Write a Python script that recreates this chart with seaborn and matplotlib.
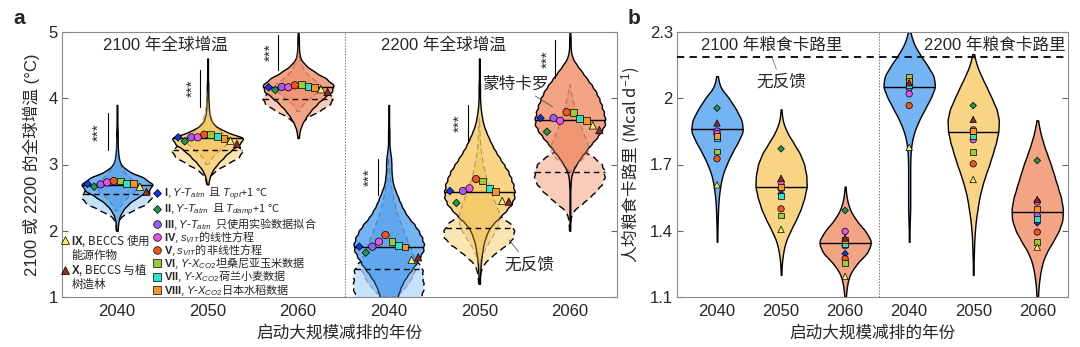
import numpy as np
import pandas as pd
import matplotlib
matplotlib.use("Agg")
import matplotlib.pyplot as plt
from matplotlib.lines import Line2D
import seaborn as sns

# ======================= DATA =======================
years = ["2040", "2050", "2060"]
models = ["I", "II", "III", "IV", "V", "VI", "VII", "VIII", "IX", "X"]

# ---- Panel a: violin profiles (warming level, degC ; relative frequency) ----
# 2100 warming, mitigation start 2040 / 2050 / 2060
a_lv_2100_2040 = [2.0, 2.1, 2.2, 2.3, 2.4, 2.5, 2.6, 2.7, 2.8, 2.9, 3.0, 3.1, 3.2, 3.3, 3.4, 3.5, 3.6, 3.7, 3.8, 3.9]
a_ct_2100_2040 = [2, 3, 6, 15, 30, 55, 88, 100, 75, 30, 10, 5, 3, 2, 2, 2, 1, 1, 1, 1]
a_nf_lv_2100_2040 = [2.0, 2.1, 2.2, 2.3, 2.4, 2.5, 2.6, 2.7, 2.8, 2.9]
a_nf_ct_2100_2040 = [2, 3, 10, 45, 85, 100, 90, 55, 20, 4]
a_mc_lv_2100_2040 = [2.3, 2.4, 2.5, 2.6, 2.7, 2.8, 2.9, 3.0, 3.1, 3.2, 3.3, 3.4]
a_mc_ct_2100_2040 = [6, 22, 50, 85, 100, 60, 30, 15, 8, 5, 3, 2]

a_lv_2100_2050 = [2.7, 2.8, 2.9, 3.0, 3.1, 3.2, 3.3, 3.4, 3.5, 3.6, 3.7, 3.8, 3.9, 4.0, 4.1, 4.2, 4.3, 4.4, 4.5, 4.6]
a_ct_2100_2050 = [2, 5, 12, 25, 42, 60, 85, 100, 45, 16, 7, 4, 3, 2, 2, 2, 1, 1, 1, 1]
a_nf_lv_2100_2050 = [2.7, 2.8, 2.9, 3.0, 3.1, 3.2, 3.3, 3.4, 3.5, 3.6]
a_nf_ct_2100_2050 = [2, 6, 22, 55, 88, 100, 80, 40, 10, 3]
a_mc_lv_2100_2050 = [3.0, 3.1, 3.2, 3.3, 3.4, 3.5, 3.6, 3.7, 3.8, 3.9, 4.0, 4.1]
a_mc_ct_2100_2050 = [5, 20, 50, 85, 100, 55, 30, 18, 10, 6, 3, 2]

a_lv_2100_2060 = [3.4, 3.5, 3.6, 3.7, 3.8, 3.9, 4.0, 4.1, 4.2, 4.3, 4.4, 4.5, 4.6, 4.7, 4.8, 4.9, 5.0, 5.1]
a_ct_2100_2060 = [2, 4, 10, 20, 33, 50, 70, 95, 100, 78, 45, 20, 6, 3, 2, 2, 1, 1]
a_nf_lv_2100_2060 = [3.5, 3.6, 3.7, 3.8, 3.9, 4.0, 4.1, 4.2, 4.3, 4.4]
a_nf_ct_2100_2060 = [2, 6, 25, 60, 90, 100, 80, 45, 12, 3]
a_mc_lv_2100_2060 = [3.8, 3.9, 4.0, 4.1, 4.2, 4.3, 4.4, 4.5, 4.6, 4.7, 4.8]
a_mc_ct_2100_2060 = [5, 20, 55, 90, 100, 60, 30, 15, 7, 3, 2]

# 2200 warming
a_lv_2200_2040 = [0.8, 0.9, 1.0, 1.1, 1.2, 1.3, 1.4, 1.5, 1.6, 1.7, 1.8, 1.9, 2.0, 2.1, 2.2, 2.3,
                  2.4, 2.5, 2.6, 2.7, 2.8, 2.9, 3.0, 3.1, 3.2, 3.3, 3.4, 3.5, 3.6, 3.7, 3.8, 3.9]
a_ct_2200_2040 = [12, 20, 26, 32, 40, 52, 66, 80, 92, 102, 104, 98, 88, 75, 58, 46,
                  36, 28, 20, 13, 10, 8, 8, 7, 4, 2, 2, 2, 1, 1, 1, 1]
a_nf_lv_2200_2040 = [0.5, 0.6, 0.7, 0.8, 0.9, 1.0, 1.1, 1.2, 1.3, 1.4, 1.5, 1.6, 1.7, 1.8, 1.9]
a_nf_ct_2200_2040 = [10, 30, 55, 75, 88, 95, 100, 100, 100, 98, 88, 65, 35, 12, 3]
a_mc_lv_2200_2040 = [1.0, 1.1, 1.2, 1.3, 1.4, 1.5, 1.6, 1.7, 1.8, 1.9, 2.0, 2.1, 2.2, 2.3, 2.4,
                     2.5, 2.6, 2.7, 2.8, 2.9, 3.0, 3.1]
a_mc_ct_2200_2040 = [30, 55, 75, 90, 100, 100, 95, 86, 76, 66, 56, 47, 38, 30, 24, 18, 13, 9, 6, 4, 2, 1]

a_lv_2200_2050 = [1.2, 1.3, 1.4, 1.5, 1.6, 1.7, 1.8, 1.9, 2.0, 2.1, 2.2, 2.3, 2.4, 2.5, 2.6, 2.7, 2.8, 2.9,
                  3.0, 3.1, 3.2, 3.3, 3.4, 3.5, 3.6, 3.7, 3.8, 3.9, 4.0, 4.1, 4.2, 4.3, 4.4, 4.5, 4.6]
a_ct_2200_2050 = [2, 2, 3, 4, 6, 9, 12, 18, 25, 38, 58, 76, 92, 100, 100, 97, 90, 82,
                  70, 58, 46, 36, 27, 19, 12, 8, 5, 3, 2, 2, 2, 1, 1, 1, 1]
a_nf_lv_2200_2050 = [1.2, 1.3, 1.4, 1.5, 1.6, 1.7, 1.8, 1.9, 2.0, 2.1, 2.2, 2.3, 2.4, 2.5]
a_nf_ct_2200_2050 = [2, 3, 6, 15, 35, 58, 85, 100, 100, 90, 65, 32, 10, 3]
a_mc_lv_2200_2050 = [1.5, 1.6, 1.7, 1.8, 1.9, 2.0, 2.1, 2.2, 2.3, 2.4, 2.5, 2.6, 2.7, 2.8, 2.9,
                     3.0, 3.1, 3.2, 3.3, 3.4, 3.5, 3.6, 3.7]
a_mc_ct_2200_2050 = [5, 12, 25, 45, 65, 85, 97, 100, 95, 82, 70, 58, 46, 36, 28, 21, 15, 10, 7, 5, 3, 2, 1]

a_lv_2200_2060 = [2.0, 2.1, 2.2, 2.3, 2.4, 2.5, 2.6, 2.7, 2.8, 2.9, 3.0, 3.1, 3.2, 3.3, 3.4, 3.5,
                  3.6, 3.7, 3.8, 3.9, 4.0, 4.1, 4.2, 4.3, 4.4, 4.5, 4.6, 4.7, 4.8, 4.9, 5.0, 5.1]
a_ct_2200_2060 = [1, 1, 1, 1, 1, 1, 1, 2, 3, 8, 18, 30, 45, 60, 76, 90,
                  100, 100, 96, 90, 83, 74, 62, 48, 34, 20, 8, 3, 2, 2, 1, 1]
a_nf_lv_2200_2060 = [2.0, 2.1, 2.2, 2.3, 2.4, 2.5, 2.6, 2.7, 2.8, 2.9, 3.0, 3.1, 3.2, 3.3, 3.4]
a_nf_ct_2200_2060 = [1, 2, 4, 12, 36, 58, 78, 93, 100, 100, 92, 70, 40, 15, 4]
a_mc_lv_2200_2060 = [2.9, 3.0, 3.1, 3.2, 3.3, 3.4, 3.5, 3.6, 3.7, 3.8, 3.9, 4.0, 4.1, 4.2]
a_mc_ct_2200_2060 = [5, 35, 75, 100, 95, 82, 68, 55, 44, 33, 23, 14, 7, 2]

a_median_main = [2.69, 3.40, 4.17, 1.76, 2.59, 3.67]
a_median_nofb = [2.55, 3.22, 3.99, 1.42, 2.04, 2.89]

# model results (I..X) per panel-a group
a_pts_2100_2040 = [2.706, 2.665, 2.70, 2.73, 2.75, 2.75, 2.715, 2.71, 2.665, 2.59]
a_pts_2100_2050 = [3.41, 3.35, 3.41, 3.41, 3.45, 3.45, 3.42, 3.39, 3.36, 3.31]
a_pts_2100_2060 = [4.165, 4.125, 4.17, 4.165, 4.195, 4.205, 4.175, 4.16, 4.135, 4.095]
a_pts_2200_2040 = [1.76, 1.67, 1.76, 1.835, 1.935, 1.835, 1.78, 1.755, 1.56, 1.60]
a_pts_2200_2050 = [2.60, 2.42, 2.60, 2.64, 2.78, 2.75, 2.64, 2.59, 2.45, 2.44]
a_pts_2200_2060 = [3.70, 3.495, 3.70, 3.66, 3.79, 3.79, 3.70, 3.67, 3.59, 3.52]

# significance bars (degC)
sig_lo = [3.22, 3.87, 4.43, 2.54, 3.35, 4.30]
sig_hi = [3.77, 4.43, 4.96, 3.09, 3.90, 4.88]

# ---- Panel b: food calories (Mcal d-1) ----
b_lv_2100_2040 = [1.35, 1.40, 1.45, 1.50, 1.55, 1.60, 1.65, 1.70, 1.75, 1.80, 1.85, 1.90, 1.95, 2.00, 2.05, 2.10]
b_ct_2100_2040 = [1, 1, 2, 3, 5, 9, 15, 27, 42, 60, 76, 72, 55, 35, 8, 2]
b_lv_2100_2050 = [1.20, 1.25, 1.30, 1.35, 1.40, 1.45, 1.50, 1.55, 1.60, 1.65, 1.70, 1.75, 1.80, 1.85, 1.90, 1.95]
b_ct_2100_2050 = [1, 2, 6, 13, 28, 45, 60, 70, 78, 76, 70, 57, 36, 16, 4, 1]
b_lv_2100_2060 = [1.05, 1.10, 1.15, 1.20, 1.25, 1.30, 1.35, 1.40, 1.45, 1.50, 1.55, 1.60]
b_ct_2100_2060 = [1, 2, 5, 12, 32, 65, 78, 58, 30, 12, 4, 1]
b_lv_2200_2040 = [1.35, 1.40, 1.45, 1.50, 1.55, 1.60, 1.65, 1.70, 1.75, 1.80, 1.85, 1.90, 1.95, 2.00,
                  2.05, 2.10, 2.15, 2.20, 2.25, 2.30]
b_ct_2200_2040 = [1, 1, 2, 3, 3, 3, 3, 3, 4, 7, 15, 28, 45, 62, 76, 72, 52, 30, 12, 3]
b_lv_2200_2050 = [1.20, 1.25, 1.30, 1.35, 1.40, 1.45, 1.50, 1.55, 1.60, 1.65, 1.70, 1.75, 1.80, 1.85,
                  1.90, 1.95, 2.00, 2.05, 2.10, 2.15, 2.20]
b_ct_2200_2050 = [1, 1, 2, 3, 5, 8, 13, 18, 26, 36, 48, 58, 68, 75, 77, 70, 55, 40, 24, 10, 2]
b_lv_2200_2060 = [1.05, 1.10, 1.15, 1.20, 1.25, 1.30, 1.35, 1.40, 1.45, 1.50, 1.55, 1.60, 1.65, 1.70,
                  1.75, 1.80, 1.85, 1.90]
b_ct_2200_2060 = [1, 2, 4, 8, 14, 26, 46, 64, 75, 76, 70, 60, 50, 40, 28, 17, 8, 2]

b_median = [1.86, 1.60, 1.345, 2.05, 1.849, 1.484]
b_nofb_ref = 2.185

b_pts_2100_2040 = [1.835, 1.955, 1.852, 1.84, 1.726, 1.759, 1.818, 1.828, 1.608, 1.888]
b_pts_2100_2050 = [1.567, 1.771, 1.59, 1.62, 1.499, 1.469, 1.557, 1.60, 1.406, 1.638]
b_pts_2100_2060 = [1.296, 1.492, 1.332, 1.397, 1.273, 1.253, 1.34, 1.36, 1.193, 1.367]
b_pts_2200_2040 = [2.05, 2.085, 2.047, 2.02, 1.967, 2.098, 2.06, 2.08, 1.778, 2.07]
b_pts_2200_2050 = [1.843, 1.967, 1.857, 1.812, 1.703, 1.756, 1.827, 1.85, 1.632, 1.904]
b_pts_2200_2060 = [1.436, 1.718, 1.469, 1.53, 1.394, 1.349, 1.454, 1.499, 1.326, 1.542]

legend_labels = [
    r"$\mathbf{I}$, $Y$-$T_{atm}$  且 $T_{opt}$+1 °C",
    r"$\mathbf{II}$, $Y$-$T_{atm}$  且 $T_{damp}$+1 °C",
    r"$\mathbf{III}$, $Y$-$T_{atm}$  只使用实验数据拟合",
    r"$\mathbf{IV}$, $s_{VIT}$的线性方程",
    r"$\mathbf{V}$, $s_{VIT}$的非线性方程",
    r"$\mathbf{VI}$, $Y$-$X_{CO2}$坦桑尼亚玉米数据",
    r"$\mathbf{VII}$, $Y$-$X_{CO2}$荷兰小麦数据",
    r"$\mathbf{VIII}$, $Y$-$X_{CO2}$日本水稻数据",
]
legend_labels_2 = [r"$\mathbf{IX}$, BECCS 使用", "能源作物", r"$\mathbf{X}$, BECCS 与植", "树造林"]

# ======================= STYLE =======================
sns.set_theme(style="white")
plt.rcParams["font.family"] = ["Liberation Sans", "Noto Sans CJK SC", "DejaVu Sans"]
plt.rcParams.update({
    "mathtext.fontset": "custom",
    "mathtext.rm": "Liberation Sans",
    "mathtext.it": "Liberation Sans:italic",
    "mathtext.bf": "Liberation Sans:bold",
    "axes.unicode_minus": False,
})
CJK = ["Noto Sans CJK SC", "Liberation Sans", "DejaVu Sans"]

main_col = ["#74B4F3", "#F8D484", "#F3A485"]
nofb_col = ["#C8E1FA", "#FBE5B2", "#F8CCB9"]
mc_col = ["#3F8FE3", "#F0B940", "#EA7C58"]
marker_map = {"I": "D", "II": "D", "III": "o", "IV": "o", "V": "o",
              "VI": "s", "VII": "s", "VIII": "s", "IX": "^", "X": "^"}
color_map = {"I": "#1333E6", "II": "#1F9A4C", "III": "#9B5EF0", "IV": "#E653E6",
             "V": "#F0561A", "VI": "#9DC93A", "VII": "#30E0C8", "VIII": "#F6952C",
             "IX": "#F4F06A", "X": "#8E2C2C"}
size_a = {"I": 15, "II": 15, "III": 28, "IV": 28, "V": 28, "VI": 24, "VII": 24,
          "VIII": 24, "IX": 28, "X": 28}
size_b = {k: v * 0.75 for k, v in size_a.items()}

fig = plt.figure(figsize=(10.8, 3.47), dpi=100)
axA = fig.add_axes([62 / 1080, 1 - 297 / 347, 555 / 1080, 265 / 347])
axB = fig.add_axes([677 / 1080, 1 - 297 / 347, 391 / 1080, 265 / 347])


def draw_violin(ax, pos, lv, ct, color, width, h, lw, ls, alpha, z, edge="black"):
    vals = np.repeat(np.asarray(lv, float), ct)
    n0 = len(ax.collections)
    sns.violinplot(x=np.full(len(vals), float(pos)), y=vals, native_scale=True,
                   color=color, saturation=1, width=width, cut=0, inner=None,
                   density_norm="width", bw_method=h / np.std(vals), gridsize=300,
                   linewidth=lw, linecolor=edge, ax=ax)
    coll = ax.collections[n0]
    coll.set_zorder(z)
    coll.set_linestyle(ls)
    coll.set_alpha(alpha)
    return coll


def hspan(coll, y):
    v = coll.get_paths()[0].vertices
    c = (v[:, 0].min() + v[:, 0].max()) / 2
    r = v[v[:, 0] > c]
    l = v[v[:, 0] < c]
    r = r[np.argsort(r[:, 1])]
    l = l[np.argsort(l[:, 1])]
    return np.interp(y, l[:, 1], l[:, 0]), np.interp(y, r[:, 1], r[:, 0])


# ======================= PANEL A =======================
a_main = [(a_lv_2100_2040, a_ct_2100_2040), (a_lv_2100_2050, a_ct_2100_2050), (a_lv_2100_2060, a_ct_2100_2060),
          (a_lv_2200_2040, a_ct_2200_2040), (a_lv_2200_2050, a_ct_2200_2050), (a_lv_2200_2060, a_ct_2200_2060)]
a_nofb = [(a_nf_lv_2100_2040, a_nf_ct_2100_2040), (a_nf_lv_2100_2050, a_nf_ct_2100_2050),
          (a_nf_lv_2100_2060, a_nf_ct_2100_2060), (a_nf_lv_2200_2040, a_nf_ct_2200_2040),
          (a_nf_lv_2200_2050, a_nf_ct_2200_2050), (a_nf_lv_2200_2060, a_nf_ct_2200_2060)]
a_mc = [(a_mc_lv_2100_2040, a_mc_ct_2100_2040), (a_mc_lv_2100_2050, a_mc_ct_2100_2050),
        (a_mc_lv_2100_2060, a_mc_ct_2100_2060), (a_mc_lv_2200_2040, a_mc_ct_2200_2040),
        (a_mc_lv_2200_2050, a_mc_ct_2200_2050), (a_mc_lv_2200_2060, a_mc_ct_2200_2060)]
mc_width = [0.46, 0.48, 0.5, 0.6, 0.45, 0.42]
W_A = 0.78
DASH = (0, (5, 3))

for i in range(6):
    k = i % 3
    c_nf = draw_violin(axA, i, *a_nofb[i], nofb_col[k], W_A, 0.05, 1.0, DASH, 1.0, 1)
    c_mn = draw_violin(axA, i, *a_main[i], main_col[k], W_A, 0.05, 1.0, "solid", 1.0, 2)
    draw_violin(axA, i, *a_mc[i], mc_col[k], mc_width[i], 0.05, 0.8, DASH, 0.35, 3, edge="#333333")
    x0, x1 = hspan(c_mn, a_median_main[i])
    axA.plot([x0, x1], [a_median_main[i]] * 2, color="black", lw=1.0, zorder=4)
    x0, x1 = hspan(c_nf, a_median_nofb[i])
    axA.plot([x0, x1], [a_median_nofb[i]] * 2, color="black", lw=1.0, ls=(0, (4, 3)), zorder=4)

a_pts = [a_pts_2100_2040, a_pts_2100_2050, a_pts_2100_2060, a_pts_2200_2040, a_pts_2200_2050, a_pts_2200_2060]
a_offsets = np.linspace(-0.325, 0.325, 10)
dfa = pd.DataFrame({"pos": np.repeat(np.arange(6), 10), "model": models * 6,
                    "v": np.concatenate(a_pts)})
dfa["x"] = dfa["pos"] + np.tile(a_offsets, 6)
sns.scatterplot(data=dfa, x="x", y="v", hue="model", style="model", size="model",
                hue_order=models, style_order=models, size_order=models,
                palette=color_map, markers=marker_map, sizes=size_a,
                edgecolor="black", linewidth=0.5, legend=False, ax=axA, zorder=6)

# significance markers
line_off = [-0.10, -0.086, -0.22, -0.12, -0.13, -0.16]
star_off = [-0.20, -0.17, -0.31, -0.21, -0.22, -0.25]
for i in range(6):
    axA.plot([i + line_off[i]] * 2, [sig_lo[i], sig_hi[i]], color="black", lw=0.8, zorder=5)
    axA.text(i + star_off[i], (sig_lo[i] + sig_hi[i]) / 2, "***", rotation=90,
             ha="center", va="center", fontsize=11, zorder=5)

axA.axvline(2.52, color="#777777", lw=0.7, ls=(0, (1.5, 1.5)), zorder=0.5)
axA.text(0.53, 4.80, "2100 年全球增温", ha="center", va="center", fontsize=12)
axA.text(3.60, 4.80, "2200 年全球增温", ha="center", va="center", fontsize=12)
axA.annotate("蒙特卡罗", xy=(4.81, 3.87), xytext=(4.40, 4.22), ha="center", va="center",
             fontsize=12, arrowprops=dict(arrowstyle="-", color="#555555", lw=0.6,
                                          shrinkA=2, shrinkB=0), zorder=7)
axA.annotate("无反馈", xy=(4.33, 1.86), xytext=(4.55, 1.48), ha="center", va="center",
             fontsize=12, arrowprops=dict(arrowstyle="-", color="#555555", lw=0.6,
                                          shrinkA=2, shrinkB=0), zorder=7)


def mk(m):
    return Line2D([], [], ls="none", marker=marker_map[m], markerfacecolor=color_map[m],
                  markeredgecolor="black", markeredgewidth=0.5,
                  markersize=4.2 if marker_map[m] == "D" else 5.5)


handles = [mk(m) for m in models[:8]]
leg1 = axA.legend(handles, legend_labels, loc="upper left", bbox_to_anchor=(0.163, 0.42),
                  frameon=False, prop=dict(family=CJK, size=8.0), handlelength=0.8,
                  handletextpad=0.25, labelspacing=-0.17, borderpad=0, borderaxespad=0)
axA.add_artist(leg1)
blank = Line2D([], [], ls="none")
axA.legend([mk("IX"), blank, mk("X"), blank], legend_labels_2, loc="upper left",
           bbox_to_anchor=(0.0, 0.245), frameon=False, prop=dict(family=CJK, size=8.3),
           handlelength=0.6, handletextpad=0.2, labelspacing=-0.02, borderpad=0, borderaxespad=0)

axA.set_xlim(-0.607, 5.52)
axA.set_ylim(1, 5)
axA.set_xticks(range(6))
axA.set_xticklabels(years * 2)
axA.set_yticks([1, 2, 3, 4, 5])
axA.set_xlabel("启动大规模减排的年份", fontsize=12, labelpad=4)
axA.set_ylabel("2100 或 2200 的全球增温 (°C)", fontsize=12, labelpad=6)

# ======================= PANEL B =======================
b_data = [(b_lv_2100_2040, b_ct_2100_2040), (b_lv_2100_2050, b_ct_2100_2050), (b_lv_2100_2060, b_ct_2100_2060),
          (b_lv_2200_2040, b_ct_2200_2040), (b_lv_2200_2050, b_ct_2200_2050), (b_lv_2200_2060, b_ct_2200_2060)]
for i in range(6):
    c = draw_violin(axB, i, *b_data[i], main_col[i % 3], 0.8, 0.028, 1.0, "solid", 1.0, 2)
    x0, x1 = hspan(c, b_median[i])
    axB.plot([x0, x1], [b_median[i]] * 2, color="black", lw=1.0, zorder=4)

b_pts = [b_pts_2100_2040, b_pts_2100_2050, b_pts_2100_2060, b_pts_2200_2040, b_pts_2200_2050, b_pts_2200_2060]
dfb = pd.DataFrame({"pos": np.repeat(np.arange(6), 10), "model": models * 6,
                    "v": np.concatenate(b_pts)})
sns.scatterplot(data=dfb, x="pos", y="v", hue="model", style="model", size="model",
                hue_order=models, style_order=models, size_order=models,
                palette=color_map, markers=marker_map, sizes=size_b,
                edgecolor="black", linewidth=0.5, legend=False, ax=axB, zorder=6)

axB.axhline(b_nofb_ref, color="black", lw=1.3, ls=(0, (4, 3)), zorder=5)
axB.axvline(2.53, color="#777777", lw=0.7, ls=(0, (1.5, 1.5)), zorder=0.5)
axB.text(0.86, 2.238, "2100 年粮食卡路里", ha="center", va="center", fontsize=12)
axB.text(4.34, 2.238, "2200 年粮食卡路里", ha="center", va="center", fontsize=12)
axB.annotate("无反馈", xy=(0.86, 2.183), xytext=(1.0, 2.075), ha="center", va="center",
             fontsize=12, arrowprops=dict(arrowstyle="-", color="#777777", lw=0.6,
                                          shrinkA=1, shrinkB=0))

axB.set_xlim(-0.625, 5.48)
axB.set_ylim(1.1, 2.3)
axB.set_xticks(range(6))
axB.set_xticklabels(years * 2)
axB.set_yticks([1.1, 1.4, 1.7, 2.0, 2.3])
axB.set_yticklabels(["1.1", "1.4", "1.7", "2", "2.3"])
axB.set_xlabel("启动大规模减排的年份", fontsize=12, labelpad=4)
axB.set_ylabel("人均粮食卡路里 (Mcal d$^{-1}$)", fontsize=12, labelpad=6, family=CJK)

for ax in (axA, axB):
    for s in ax.spines.values():
        s.set_color("#8a8a8a")
        s.set_linewidth(0.8)
    ax.tick_params(axis="y", direction="in", left=True, right=True, length=4, width=0.8,
                   color="#666666", labelsize=12, pad=3)
    ax.tick_params(axis="x", length=0, labelsize=12, pad=5)

fig.text(19 / 1080, 1 - 19 / 347, "a", fontsize=15, fontweight="bold", ha="center", va="center")
fig.text(634 / 1080, 1 - 18 / 347, "b", fontsize=15, fontweight="bold", ha="center", va="center")

fig.savefig("out.png", dpi=100)
